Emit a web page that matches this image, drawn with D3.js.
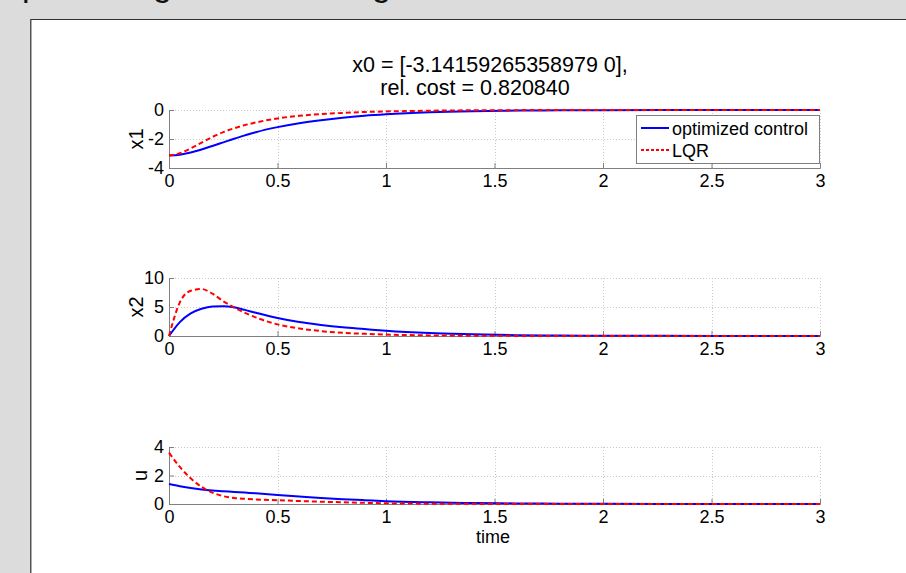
<!DOCTYPE html>
<html>
<head>
<meta charset="utf-8">
<script src="https://cdn.jsdelivr.net/npm/d3@7"></script>
<style>
  html, body { margin: 0; padding: 0; background: #dcdcdc; }
  #chart { width: 906px; height: 573px; }
  text { font-family: "Liberation Sans", Arial, sans-serif; }
</style>
</head>
<body>
<div id="chart"></div>
<script>
// ---- data ----
var time = [0, 0.05, 0.1, 0.15, 0.2, 0.25, 0.3, 0.35, 0.4, 0.5, 0.6, 0.7, 0.8, 0.9, 1.0, 1.2, 1.4, 1.6, 1.8, 2.0, 2.5, 3.0];

var x1Opt = [-3.14, -3.08, -2.93, -2.72, -2.48, -2.23, -1.98, -1.75, -1.53, -1.18, -0.91, -0.70, -0.53, -0.40, -0.30, -0.16, -0.08, -0.04, -0.02, -0.01, 0, 0];
var x1Lqr = [-3.14, -2.98, -2.65, -2.25, -1.86, -1.53, -1.26, -1.04, -0.86, -0.58, -0.40, -0.28, -0.20, -0.14, -0.10, -0.05, -0.02, -0.01, 0, 0, 0, 0];

var x2Opt = [0, 2.4, 3.9, 4.7, 5.1, 5.15, 4.95, 4.5, 4.0, 3.1, 2.4, 1.9, 1.5, 1.2, 0.9, 0.5, 0.3, 0.15, 0.08, 0.05, 0.01, 0];
var x2Lqr = [0, 5.8, 7.8, 8.1, 7.3, 6.0, 4.9, 4.0, 3.2, 2.0, 1.3, 0.85, 0.55, 0.38, 0.25, 0.1, 0.05, 0.02, 0, 0, 0, 0];

var uOpt = [1.4, 1.25, 1.12, 1.02, 0.95, 0.9, 0.85, 0.8, 0.75, 0.63, 0.52, 0.42, 0.34, 0.27, 0.2, 0.12, 0.07, 0.04, 0.02, 0.01, 0, 0];
var uLqr = [3.6, 2.6, 1.8, 1.2, 0.8, 0.55, 0.42, 0.36, 0.32, 0.27, 0.21, 0.16, 0.12, 0.08, 0.05, 0.02, 0.01, 0, 0, 0, 0, 0];

var xTicks = [0, 0.5, 1, 1.5, 2, 2.5, 3];
var seriesNames = ['optimized control', 'LQR'];
var titleLines = ['x0 = [-3.14159265358979 0],', 'rel. cost = 0.820840'];

var panels = [
  { label: 'x1', domain: [-4, 0], ticks: [-4, -2, 0], opt: x1Opt, lqr: x1Lqr, top: 110, bottom: 168, labelX: 143 },
  { label: 'x2', domain: [0, 10], ticks: [0, 5, 10], opt: x2Opt, lqr: x2Lqr, top: 278, bottom: 336, labelX: 143 },
  { label: 'u',  domain: [0, 4],  ticks: [0, 2, 4],  opt: uOpt,  lqr: uLqr,  top: 447, bottom: 504, labelX: 147 }
];

var W = 906, H = 573;
var left = 169, right = 820;
var BLUE = '#0000ff', RED = '#ff0000', AXIS = '#808080', GRID = '#c8c8c8';
var FS = 18;

var svg = d3.select('#chart').append('svg')
  .attr('width', W).attr('height', H);

// window background + white figure panel
svg.append('rect').attr('width', W).attr('height', H).attr('fill', '#dcdcdc');
svg.append('rect').attr('x', 30).attr('y', 19).attr('width', W - 30).attr('height', H - 19)
  .attr('fill', '#ffffff');
svg.append('line').attr('x1', 30).attr('y1', 19.5).attr('x2', W).attr('y2', 19.5)
  .attr('stroke', '#333').attr('stroke-width', 1);
svg.append('line').attr('x1', 30.5).attr('y1', 19).attr('x2', 30.5).attr('y2', H)
  .attr('stroke', '#555').attr('stroke-width', 1);
svg.append('line').attr('x1', 31.5).attr('y1', 20).attr('x2', 31.5).attr('y2', H)
  .attr('stroke', '#aaa').attr('stroke-width', 1);

// heading cut off by the top of the window (only descenders show)
[['p', 22], ['g', 153], ['g', 372]].forEach(function(g) {
  svg.append('text').attr('x', g[1]).attr('y', -4)
    .attr('font-size', 34).attr('fill', '#111').text(g[0]);
});

var x = d3.scaleLinear().domain([0, 3]).range([left, right]);

panels.forEach(function(p) {
  var y = d3.scaleLinear().domain(p.domain).range([p.bottom, p.top]);
  var g = svg.append('g');

  // grid
  xTicks.forEach(function(t) {
    if (t === 0) return;
    g.append('line')
      .attr('x1', Math.round(x(t)) + 0.5).attr('x2', Math.round(x(t)) + 0.5)
      .attr('y1', p.top).attr('y2', p.bottom)
      .attr('stroke', GRID).attr('stroke-width', 1).attr('stroke-dasharray', '1,2');
  });
  p.ticks.forEach(function(v) {
    if (v === p.domain[0]) return;
    g.append('line')
      .attr('x1', left).attr('x2', right)
      .attr('y1', Math.round(y(v)) + 0.5).attr('y2', Math.round(y(v)) + 0.5)
      .attr('stroke', GRID).attr('stroke-width', 1).attr('stroke-dasharray', '1,2');
  });

  // axes (ticks inward, MATLAB style)
  var xAxis = d3.axisBottom(x).tickValues(xTicks).tickSize(-5).tickPadding(6)
    .tickFormat(function(d) { return String(d); });
  var gx = g.append('g').attr('transform', 'translate(0,' + p.bottom + ')').call(xAxis);
  var yAxis = d3.axisLeft(y).tickValues(p.ticks).tickSize(-5).tickPadding(5)
    .tickFormat(function(d) { return String(d); });
  var gy = g.append('g').attr('transform', 'translate(' + left + ',0)').call(yAxis);
  [gx, gy].forEach(function(a) {
    a.select('.domain').attr('stroke', AXIS);
    a.selectAll('.tick line').attr('stroke', AXIS);
    a.selectAll('.tick text').attr('fill', '#000').attr('font-size', FS)
      .attr('font-family', '"Liberation Sans", Arial, sans-serif');
  });

  // y label
  g.append('text')
    .attr('transform', 'translate(' + p.labelX + ',' + ((p.top + p.bottom) / 2) + ') rotate(-90)')
    .attr('text-anchor', 'middle').attr('font-size', 20).attr('fill', '#000')
    .text(p.label);

  // lines
  var line = d3.line()
    .x(function(d, i) { return x(time[i]); })
    .y(function(d) { return y(d); })
    .curve(d3.curveMonotoneX);

  g.append('path').datum(p.opt).attr('d', line)
    .attr('fill', 'none').attr('stroke', BLUE).attr('stroke-width', 2);
  g.append('path').datum(p.lqr).attr('d', line)
    .attr('fill', 'none').attr('stroke', RED).attr('stroke-width', 2)
    .attr('stroke-dasharray', '5,3');
});

// title
svg.append('text').attr('x', 490).attr('y', 72).attr('text-anchor', 'middle')
  .attr('font-size', 21.5).attr('fill', '#000').text(titleLines[0]);
svg.append('text').attr('x', 475).attr('y', 95).attr('text-anchor', 'middle')
  .attr('font-size', 21.5).attr('fill', '#000').text(titleLines[1]);

// x label
svg.append('text').attr('x', 493).attr('y', 543).attr('text-anchor', 'middle')
  .attr('font-size', FS).attr('fill', '#000').text('time');

// legend
var lg = svg.append('g').attr('transform', 'translate(636,115)');
lg.append('rect').attr('x', 0.5).attr('y', 0.5).attr('width', 183).attr('height', 48)
  .attr('fill', '#fff').attr('stroke', AXIS).attr('stroke-width', 1);
seriesNames.forEach(function(name, i) {
  var yy = 13 + i * 22;
  lg.append('line').attr('x1', 5).attr('x2', 33).attr('y1', yy).attr('y2', yy)
    .attr('stroke', i === 0 ? BLUE : RED).attr('stroke-width', 2)
    .attr('stroke-dasharray', i === 0 ? null : '3,2');
  lg.append('text').attr('x', 36).attr('y', yy + 7)
    .attr('font-size', FS).attr('fill', '#000').text(name);
});
</script>
</body>
</html>
